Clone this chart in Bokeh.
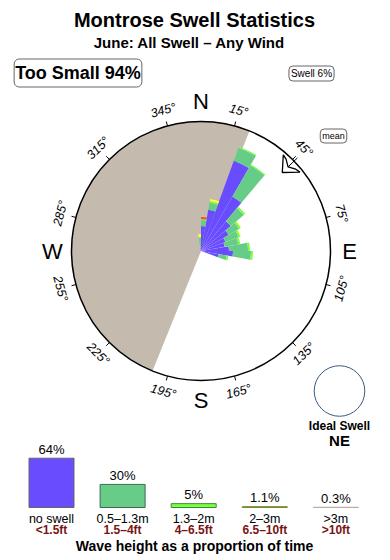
import math
from bokeh.plotting import figure
from bokeh.models import Range1d, ColumnDataSource
from bokeh.core.properties import value
from bokeh.embed import file_html
from bokeh.resources import INLINE

# ---------------- data ----------------
title = "Montrose Swell Statistics"
subtitle = "June: All Swell \u2013 Any Wind"
too_small_pct = 94
swell_pct = 6
mean_dir = 46          # degrees (mean swell direction)
ideal_dir = "NE"
too_small_from = 22    # grey sector start bearing (deg), spans 180 deg anticlockwise

# rose: direction bins (bearing of bin centre, deg) and stacked lengths (% , circle = 10%)
dir_bins = [355, 5, 15, 25, 35, 45, 55, 65, 75, 85, 95, 105]
r_noswell = [0.23, 1.93, 3.24, 7.41, 4.86, 3.00, 2.47, 2.01, 1.85, 2.16, 2.47, 1.39]
r_small   = [0.77, 0.46, 0.54, 1.08, 2.78, 1.31, 0.93, 1.08, 1.08, 1.47, 1.39, 0.62]
r_medium  = [0.08, 0.08, 0.15, 0.08, 0.08, 0.15, 0.15, 0.15, 0.15, 0.15, 0.15, 0.15]
r_large   = [0.23, 0.00, 0.15, 0.00, 0.00, 0.00, 0.04, 0.04, 0.00, 0.00, 0.00, 0.00]
r_huge    = [0.00, 0.15, 0.00, 0.00, 0.00, 0.00, 0.00, 0.00, 0.00, 0.00, 0.00, 0.00]
rose_circle_pct = 10.0

deg_ticks = [15, 45, 75, 105, 135, 165, 195, 225, 255, 285, 315, 345]

# legend: wave height classes
cat_m = ["no swell", "0.5\u20131.3m", "1.3\u20132m", "2\u20133m", ">3m"]
cat_ft = ["<1.5ft", "1.5\u20134ft", "4\u20136.5ft", "6.5\u201310ft", ">10ft"]
cat_pct = [64, 30, 5, 1.1, 0.3]
cat_pct_labels = ["64%", "30%", "5%", "1.1%", "0.3%"]

# ---------------- styles / layout ----------------
FONT = value("Liberation Sans")
W, H = 390, 560
CX, CY, R = 200.5, 309.5, 129.5
colors = ["#6a4cff", "#66cc88", "#77ff44", "#ffff33", "#ff4a22"]
bar_lines = ["#666666", "#446655", "#448833", "#7a8a33", "#c4a8a0"]
GREY = "#c5baae"

p = figure(width=W, height=H, x_range=Range1d(0, W), y_range=Range1d(0, H),
           output_backend="svg", toolbar_location=None, min_border=0)
p.axis.visible = False
p.grid.visible = False
p.outline_line_color = None
p.background_fill_color = "white"

rad = math.radians

# grey 'too small' half disc
p.wedge(x=CX, y=CY, radius=R, start_angle=rad(90 - too_small_from),
        end_angle=rad(90 - too_small_from + 180), fill_color=GREY, line_color=None)

# rose wedges
scale = R / rose_circle_pct
layers = [r_noswell, r_small, r_medium, r_large, r_huge]
cum = [0.0] * len(dir_bins)
for li, layer in enumerate(layers):
    inner, outer, st, en = [], [], [], []
    for i, b in enumerate(dir_bins):
        if layer[i] <= 0:
            continue
        inner.append(cum[i] * scale)
        outer.append((cum[i] + layer[i]) * scale)
        st.append(rad(90 - b - 5))
        en.append(rad(90 - b + 5))
        cum[i] += layer[i]
    p.annular_wedge(x=CX, y=CY, inner_radius=inner, outer_radius=outer,
                    start_angle=st, end_angle=en, fill_color=colors[li],
                    line_color=None)

# circle outline
p.circle(x=CX, y=CY, radius=R, fill_color=None, line_color="black", line_width=1.5)

# ticks and degree labels
tx0, ty0, tx1, ty1 = [], [], [], []
lx, ly, la, lt = [], [], [], []
for b in deg_ticks:
    s, c = math.sin(rad(b)), math.cos(rad(b))
    tx0.append(CX + R * s); ty0.append(CY + R * c)
    tx1.append(CX + (R + 4.5) * s); ty1.append(CY + (R + 4.5) * c)
    lx.append(CX + (R + 16) * s); ly.append(CY + (R + 16) * c)
    rot = -b if (b < 90 or b > 270) else 180 - b
    la.append(rad(rot))
    lt.append(f"{b}\u00b0")
p.segment(x0=tx0, y0=ty0, x1=tx1, y1=ty1, line_color="black", line_width=1)
p.text(x=lx, y=ly, text=lt, angle=la, text_align="center", text_baseline="middle",
       text_font=FONT, text_font_style="italic", text_font_size="12.5px", text_color="black")

# compass letters
p.text(x=[CX, CX + R + 19, CX, CX - R - 19], y=[CY + R + 20, CY, CY - R - 20, CY],
       text=["N", "E", "S", "W"], text_align="center", text_baseline="middle",
       text_font=FONT, text_font_size="22px", text_color="black")

# mean direction arrow (chevron pointing to centre)
def pol(rr, vv, b):
    s, c = math.sin(rad(b)), math.cos(rad(b))
    return CX + rr * s + vv * c, CY + rr * c - vv * s

pts = [pol(113, 0, mean_dir), pol(126, -12, mean_dir), pol(125, -7, mean_dir),
       pol(121, 0, mean_dir), pol(125, 7, mean_dir), pol(126, 12, mean_dir)]
p.patch(x=[q[0] for q in pts], y=[q[1] for q in pts], fill_color="white",
        line_color="black", line_width=1.3)
a0 = pol(121, 0, mean_dir); a1 = pol(134, 0, mean_dir)
p.segment(x0=[a0[0]], y0=[a0[1]], x1=[a1[0]], y1=[a1[1]], line_color="black", line_width=1)

# titles
p.text(x=[194], y=[541], text=[title], text_align="center", text_baseline="middle",
       text_font=FONT, text_font_style="bold", text_font_size="20px", text_color="black")
p.text(x=[189], y=[518], text=[subtitle], text_align="center", text_baseline="middle",
       text_font=FONT, text_font_style="bold", text_font_size="15px", text_color="black")

# boxed labels
p.text(x=[77.5], y=[487.5], text=[f"Too Small {too_small_pct}%"], text_align="center",
       text_baseline="middle", text_font=FONT, text_font_style="bold", text_font_size="18px",
       text_color="black", background_fill_color="white", border_line_color="#666666",
       border_line_width=1, border_radius=5, padding=(1, 4))
p.text(x=[311], y=[487], text=[f"Swell {swell_pct}%"], text_align="center",
       text_baseline="middle", text_font=FONT, text_font_size="10px", text_color="black",
       background_fill_color="white", border_line_color="#666666", border_line_width=1,
       border_radius=4, padding=2)
p.text(x=[333], y=[424.5], text=["mean"], text_align="center",
       text_baseline="middle", text_font=FONT, text_font_size="9px", text_color="black",
       background_fill_color="white", border_line_color="#666666", border_line_width=1,
       border_radius=4, padding=2)

# ideal swell
p.circle(x=339, y=169.5, radius=25.3, fill_color=None, line_color="#3a5a80", line_width=1)
p.text(x=[339], y=[135], text=["Ideal Swell"], text_align="center", text_baseline="middle",
       text_font=FONT, text_font_style="bold", text_font_size="12px", text_color="black")
p.text(x=[339], y=[120], text=[ideal_dir], text_align="center", text_baseline="middle",
       text_font=FONT, text_font_style="bold", text_font_size="15px", text_color="black")

# legend bars
BASE = 53
BAR_SCALE = 49.3 / 64
bx = [51 + 71.1 * i for i in range(len(cat_pct))]
tops = [BASE + v * BAR_SCALE for v in cat_pct]
src = ColumnDataSource(dict(x=bx, top=tops, fill=colors, line=bar_lines))
p.vbar(x="x", top="top", bottom=BASE, width=45, fill_color="fill", line_color="line",
       line_width=1, source=src)
p.text(x=bx, y=[t + 9 for t in tops], text=cat_pct_labels, text_align="center",
       text_baseline="middle", text_font=FONT, text_font_size="13px", text_color="black")
p.text(x=bx, y=[42] * 5, text=cat_m, text_align="center", text_baseline="middle",
       text_font=FONT, text_font_size="12.5px", text_color="black")
p.text(x=bx, y=[31] * 5, text=cat_ft, text_align="center", text_baseline="middle",
       text_font=FONT, text_font_style="bold", text_font_size="12px", text_color="#7a1414")
p.text(x=[194], y=[15], text=["Wave height as a proportion of time"], text_align="center",
       text_baseline="middle", text_font=FONT, text_font_style="bold", text_font_size="14px",
       text_color="black")

open("out.html", "w").write(file_html(p, INLINE))
